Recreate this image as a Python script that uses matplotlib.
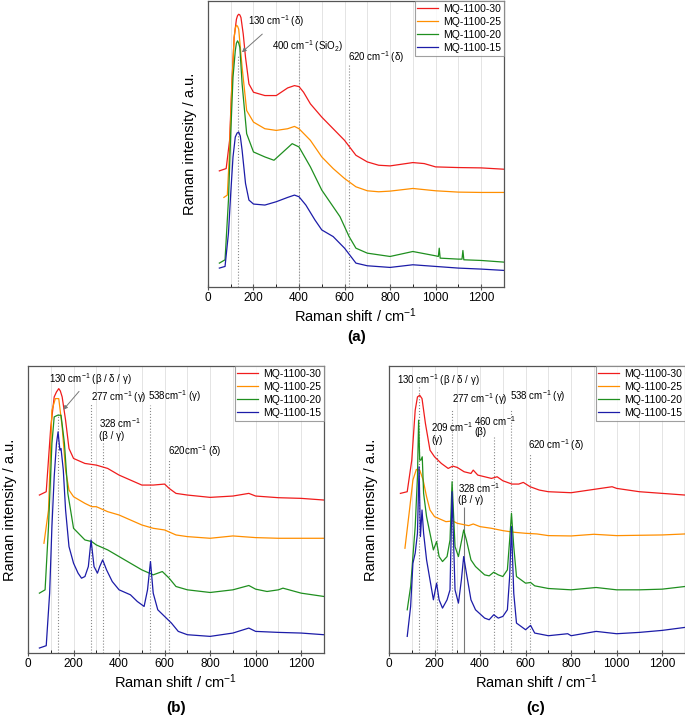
import numpy as np
import matplotlib
matplotlib.use('Agg')
import matplotlib.pyplot as plt

plt.rcParams['font.family'] = ['Liberation Sans', 'DejaVu Sans']
plt.rcParams['mathtext.fontset'] = 'custom'
plt.rcParams['mathtext.rm'] = 'Liberation Sans'
plt.rcParams['mathtext.it'] = 'Liberation Sans:italic'

labels = ['MQ-1100-30', 'MQ-1100-25', 'MQ-1100-20', 'MQ-1100-15']
colors = ['#f01c1c', '#ff8f00', '#1f8f1f', '#1c1ca8']

# ---------------- panel (a) ----------------
a30_x = [50, 80, 95, 105, 115, 125, 130, 135, 140, 145, 155, 165, 180, 200, 250, 300, 350, 380, 400, 420, 450, 500,
         550, 600, 650, 700, 750, 800, 850, 900, 950, 1000, 1100, 1200, 1300]
a30_y = [350, 357, 442, 612, 752, 807, 818, 822, 820, 812, 762, 692, 612, 587, 577, 577, 600, 607, 604, 587, 552, 512,
         477, 442, 397, 377, 367, 365, 370, 375, 372, 362, 360, 359, 355]
a25_x = [70, 85, 95, 105, 115, 120, 125, 130, 135, 150, 170, 200, 250, 300, 350, 380, 400, 450, 500, 550, 600, 650,
         700, 750, 800, 900, 1000, 1100, 1200, 1300]
a25_y = [270, 277, 412, 612, 752, 780, 789, 786, 777, 662, 532, 497, 477, 472, 477, 484, 477, 442, 392, 357, 327, 302,
         290, 287, 289, 297, 290, 286, 285, 285]
a20_x = [50, 75, 90, 100, 110, 120, 125, 130, 135, 140, 150, 170, 200, 250, 290, 330, 370, 400, 450, 500, 550, 580,
         620, 650, 700, 800, 900, 1000, 1012, 1016, 1020, 1100, 1116, 1120, 1124, 1200, 1300]
a20_y = [72, 82, 262, 462, 632, 712, 735, 742, 735, 722, 612, 462, 407, 392, 382, 407, 432, 422, 362, 292, 242, 212,
         152, 117, 102, 92, 107, 94, 92, 117, 87, 84, 84, 110, 82, 80, 75]
a15_x = [50, 75, 90, 100, 110, 120, 128, 135, 142, 150, 165, 180, 200, 250, 300, 350, 380, 400, 430, 470, 500, 550,
         600, 650, 700, 800, 900, 1000, 1100, 1200, 1300]
a15_y = [57, 62, 162, 282, 392, 452, 464, 467, 455, 412, 312, 262, 250, 247, 257, 270, 277, 272, 247, 202, 172, 152,
         117, 72, 64, 59, 67, 62, 57, 54, 50]

# ---------------- panel (b) ----------------
b30_x = [50, 80, 100, 115, 125, 135, 142, 150, 165, 180, 200, 250, 300, 350, 400, 450, 500, 550, 600, 620, 650, 700,
         800, 900, 970, 1000, 1100, 1200, 1300]
b30_y = [475, 485, 680, 770, 785, 795, 788, 770, 700, 615, 585, 570, 565, 555, 535, 520, 505, 505, 508, 495, 480, 475,
         468, 472, 480, 472, 467, 465, 460]
b25_x = [70, 90, 105, 120, 135, 150, 165, 180, 200, 250, 280, 300, 350, 400, 450, 500, 550, 600, 650, 700,
         800, 900, 1000, 1100, 1200, 1300]
b25_y = [330, 430, 730, 765, 765, 680, 550, 490, 470, 450, 440, 440, 425, 415, 400, 385, 375, 370, 355, 350,
         345, 352, 347, 345, 345, 345]
b20_x = [50, 75, 90, 105, 115, 130, 145, 160, 175, 200, 250, 280, 300, 350, 400, 450, 500, 550, 590, 620,
         650, 700, 800, 900, 970, 1000, 1050, 1100, 1120, 1200, 1300]
b20_y = [180, 190, 380, 630, 710, 715, 715, 630, 480, 375, 340, 335, 325, 310, 290, 270, 250, 235, 245, 225,
         200, 190, 182, 190, 203, 192, 185, 190, 195, 180, 170]
b15_x = [50, 80, 95, 105, 115, 125, 132, 140, 145, 155, 165, 180, 200, 210, 220, 235, 250, 265, 277, 290,
         305, 315, 328, 345, 370, 400, 450, 480, 510, 525, 538, 550, 570, 600, 630, 660, 700, 800, 900, 970,
         1000, 1100, 1200, 1300]
b15_y = [15, 22, 180, 380, 530, 630, 665, 610, 615, 550, 430, 320, 270, 255, 240, 225, 230, 260, 340, 260,
         240, 260, 280, 250, 215, 190, 175, 155, 140, 190, 275, 180, 130, 110, 90, 65, 55, 50, 60, 75,
         65, 62, 60, 55]

# ---------------- panel (c) ----------------
c30_x = [50, 80, 100, 115, 125, 135, 145, 160, 180, 200, 230, 260, 280, 300, 330, 360, 370, 390, 450, 475, 500,
         540, 570, 590, 620, 660, 700, 800, 900, 950, 980, 1000, 1100, 1200, 1300]
c30_y = [480, 485, 580, 730, 770, 775, 765, 690, 610, 590, 570, 555, 562, 558, 545, 540, 550, 535, 525, 530, 518,
         508, 508, 513, 500, 490, 485, 482, 492, 497, 500, 495, 485, 480, 475]
c25_x = [70, 90, 105, 120, 135, 150, 165, 180, 200, 250, 280, 300, 350, 370, 400, 450, 500, 550, 600, 650,
         700, 800, 900, 1000, 1100, 1200, 1300]
c25_y = [315, 430, 520, 552, 550, 520, 470, 430, 410, 395, 397, 390, 383, 388, 380, 375, 368, 363, 360, 358,
         353, 352, 357, 353, 354, 355, 358]
c20_x = [80, 95, 105, 115, 125, 130, 135, 140, 146, 152, 165, 180, 195, 209, 220, 235, 255, 268, 277, 290,
         305, 318, 328, 340, 360, 380, 420, 440, 460, 480, 500, 520, 530, 538, 548, 560, 600, 622, 640, 700,
         800, 910, 1000, 1100, 1200, 1300]
c20_y = [130, 200, 290, 380, 530, 700, 580, 580, 590, 480, 410, 360, 310, 335, 290, 275, 290, 340, 515, 320,
         290, 335, 370, 340, 280, 260, 235, 232, 243, 235, 230, 250, 340, 420, 320, 230, 210, 212, 202, 194,
         190, 197, 190, 190, 192, 200]
c15_x = [80, 95, 105, 115, 125, 132, 138, 145, 152, 165, 180, 195, 209, 220, 235, 255, 268, 277, 290, 305,
         318, 328, 340, 360, 380, 420, 440, 460, 480, 500, 520, 530, 538, 548, 560, 600, 622, 640, 700, 785,
         800, 910, 1000, 1100, 1200, 1300]
c15_y = [50, 140, 270, 300, 360, 560, 350, 430, 360, 280, 220, 160, 210, 160, 135, 160, 190, 485, 190, 150,
         220, 290, 240, 160, 130, 105, 100, 115, 105, 110, 130, 230, 380, 180, 90, 70, 83, 60, 52, 58,
         52, 65, 58, 62, 68, 77]

cm = r'cm$^{-1}$'


def panel(ax, series, ymax, marks):
    for x in range(100, 1301, 100):
        ax.axvline(x, color='#e4e4e4', lw=0.7, zorder=0)
    for (xs, ys), c, lab in zip(series, colors, labels):
        ax.plot(xs, ys, color=c, lw=0.9, label=lab)
    for pos, top, style in marks:
        ax.vlines(pos, 0, top, colors='#888888' if style == ':' else '#777777',
                  linestyles=style, lw=0.8, zorder=1)
    ax.set_xlim(0, 1300)
    ax.set_ylim(0, ymax)
    ax.set_xticks(range(0, 1301, 200))
    ax.set_xticks(range(100, 1301, 200), minor=True)
    ax.set_yticks([])
    ax.tick_params(axis='x', labelsize=8.5, length=4, width=0.8, color='#555555',
                   direction='inout', pad=1.5)
    ax.tick_params(axis='x', which='minor', length=2, direction='in')
    for s in ax.spines.values():
        s.set_color('#555555')
        s.set_linewidth(0.9)
    ax.set_xlabel('Raman shift / ' + cm, fontsize=10.5, labelpad=2)
    ax.set_ylabel('Raman intensity / a.u.', fontsize=10.5, labelpad=8)
    leg = ax.legend(loc='upper right', fontsize=7.5, frameon=True, fancybox=False, borderaxespad=0,
                    handlelength=2.0, labelspacing=0.3, borderpad=0.25, handletextpad=0.5)
    leg.get_frame().set_edgecolor('#888888')
    leg.get_frame().set_linewidth(0.8)


fig = plt.figure(figsize=(6.85, 7.15), dpi=100)
ax_a = fig.add_axes([0.3036, 0.5986, 0.432, 0.400])
ax_b = fig.add_axes([0.0409, 0.0867, 0.432, 0.4014])
ax_c = fig.add_axes([0.5679, 0.0867, 0.432, 0.4014])

tfs = 7
arrow = dict(arrowstyle='-|>', color='#777777', lw=0.7, mutation_scale=6)

# (a)
panel(ax_a, [(a30_x, a30_y), (a25_x, a25_y), (a20_x, a20_y), (a15_x, a15_y)], 862,
      [(130, 700, ':'), (400, 712, ':'), (620, 672, ':')])
ax_a.annotate('130 ' + cm + ' (δ)', xy=(140, 702), xytext=(177, 800), fontsize=tfs,
              va='center', arrowprops=arrow)
ax_a.text(436, 727, '400 ' + cm + r' (SiO$_2$)', fontsize=tfs, ha='center', va='center')
ax_a.text(740, 692, '620 ' + cm + ' (δ)', fontsize=tfs, ha='center', va='center')

# (b)
panel(ax_b, [(b30_x, b30_y), (b25_x, b25_y), (b20_x, b20_y), (b15_x, b15_y)], 863,
      [(130, 720, ':'), (277, 750, ':'), (328, 630, ':'), (538, 745, ':'), (620, 580, ':')])
ax_b.annotate('130 ' + cm + ' (β / δ / γ)', xy=(147, 725), xytext=(90, 825), fontsize=tfs,
              va='center', arrowprops=arrow)
ax_b.text(277, 770, '277 ' + cm + ' (γ)', fontsize=tfs, va='center')
ax_b.text(312, 690, '328 ' + cm, fontsize=tfs, va='center')
ax_b.text(312, 652, '(β / γ)', fontsize=tfs, va='center')
ax_b.text(528, 772, '538' + cm + ' (γ)', fontsize=tfs, va='center')
ax_b.text(615, 608, '620' + cm + ' (δ)', fontsize=tfs, va='center')

# (c)
panel(ax_c, [(c30_x, c30_y), (c25_x, c25_y), (c20_x, c20_y), (c15_x, c15_y)], 863,
      [(130, 805, ':'), (209, 610, ':'), (277, 730, ':'), (460, 650, ':'), (538, 735, ':'),
       (620, 600, ':'), (328, 440, '-')])
ax_c.text(34, 822, '130 ' + cm + ' (β / δ / γ)', fontsize=tfs, va='center')
ax_c.text(276, 762, '277 ' + cm + ' (γ)', fontsize=tfs, va='center')
ax_c.text(184, 680, '209 ' + cm, fontsize=tfs, va='center')
ax_c.text(184, 642, '(γ)', fontsize=tfs, va='center')
ax_c.text(375, 698, '460 ' + cm, fontsize=tfs, va='center')
ax_c.text(375, 665, '(β)', fontsize=tfs, va='center')
ax_c.text(530, 772, '538 ' + cm + ' (γ)', fontsize=tfs, va='center')
ax_c.text(610, 625, '620 ' + cm + ' (δ)', fontsize=tfs, va='center')
ax_c.text(301, 495, '328 ' + cm, fontsize=tfs, va='center')
ax_c.text(301, 460, '(β / γ)', fontsize=tfs, va='center')

fig.text(0.52, 0.5287, '(a)', fontsize=11, fontweight='bold', ha='center', va='center')
fig.text(0.257, 0.0098, '(b)', fontsize=11, fontweight='bold', ha='center', va='center')
fig.text(0.782, 0.0098, '(c)', fontsize=11, fontweight='bold', ha='center', va='center')

fig.savefig('out.png', dpi=100)
